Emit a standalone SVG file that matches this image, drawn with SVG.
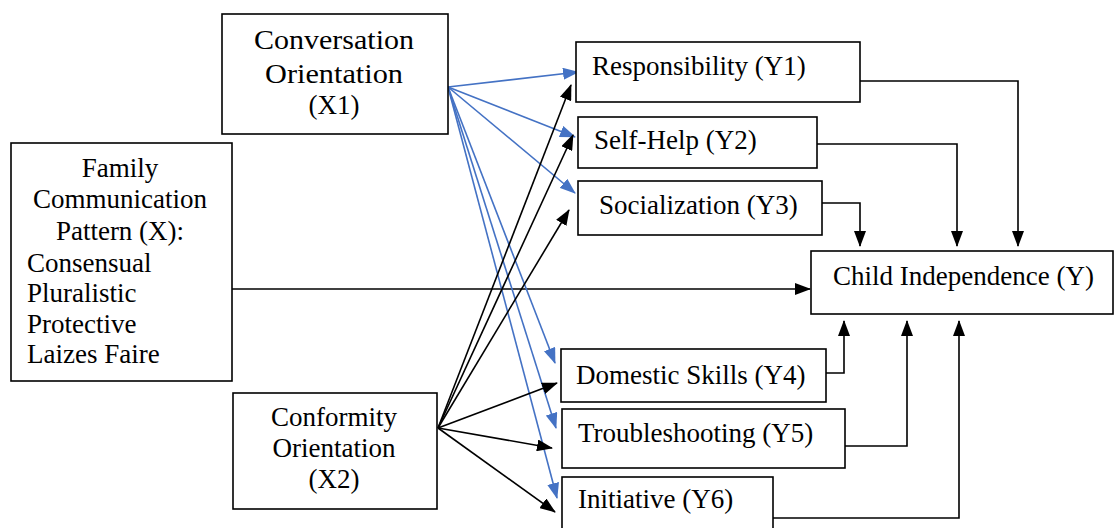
<svg xmlns="http://www.w3.org/2000/svg" width="1114" height="528" viewBox="0 0 1114 528">
<style>
.box{fill:#fff;stroke:#000;stroke-width:1.6}
.t{font-family:"Liberation Serif","Times New Roman",serif;font-size:27px;fill:#000}
.m{text-anchor:middle}
.k{fill:none;stroke:#000;stroke-width:1.6}
.b{fill:none;stroke:#4472C4;stroke-width:1.6}
</style>
<defs>
<marker id="ak" markerUnits="userSpaceOnUse" markerWidth="16" markerHeight="12" refX="15" refY="6" orient="auto" viewBox="0 0 16 12"><path d="M0,0 L16,6 L0,12 Z" fill="#000"/></marker>
<marker id="ab" markerUnits="userSpaceOnUse" markerWidth="16" markerHeight="12" refX="15" refY="6" orient="auto" viewBox="0 0 16 12"><path d="M0,0 L16,6 L0,12 Z" fill="#4472C4"/></marker>
</defs>
<rect width="1114" height="528" fill="#fff"/>
<g id="connectors">
<path class="k" d="M232,289 L810,289" marker-end="url(#ak)"/>
<path class="k" d="M860,81 L1018,81 L1018,246" marker-end="url(#ak)"/>
<path class="k" d="M817,144 L957,144 L957,246" marker-end="url(#ak)"/>
<path class="k" d="M822,203 L860,203 L860,246" marker-end="url(#ak)"/>
<path class="k" d="M826,373 L844,373 L844,321" marker-end="url(#ak)"/>
<path class="k" d="M845,446 L907,446 L907,321" marker-end="url(#ak)"/>
<path class="k" d="M773,518 L959,518 L959,321" marker-end="url(#ak)"/>
<path class="b" d="M448,87 L578,72" marker-end="url(#ab)"/>
<path class="b" d="M448,87 L575,137" marker-end="url(#ab)"/>
<path class="b" d="M448,87 L575,193" marker-end="url(#ab)"/>
<path class="b" d="M448,87 L555,363" marker-end="url(#ab)"/>
<path class="b" d="M448,87 L556,428" marker-end="url(#ab)"/>
<path class="b" d="M448,87 L557,498" marker-end="url(#ab)"/>
<path class="k" d="M438,428 L571,85" marker-end="url(#ak)"/>
<path class="k" d="M438,428 L573,135" marker-end="url(#ak)"/>
<path class="k" d="M438,428 L569,210" marker-end="url(#ak)"/>
<path class="k" d="M438,428 L557,383" marker-end="url(#ak)"/>
<path class="k" d="M438,428 L552,448" marker-end="url(#ak)"/>
<path class="k" d="M438,428 L555,512" marker-end="url(#ak)"/>
</g>
<g id="x1">
<rect class="box" x="222" y="14" width="226" height="120"/>
<text class="t m" x="334" y="49" textLength="160" lengthAdjust="spacingAndGlyphs">Conversation</text>
<text class="t m" x="334" y="83" textLength="138" lengthAdjust="spacingAndGlyphs">Orientation</text>
<text class="t m" x="334" y="114">(X1)</text>
</g>
<g id="x">
<rect class="box" x="11" y="143" width="221" height="238"/>
<text class="t m" x="120" y="177">Family</text>
<text class="t m" x="120" y="208">Communication</text>
<text class="t m" x="120" y="240">Pattern (X):</text>
<text class="t" x="27" y="272">Consensual</text>
<text class="t" x="27" y="302">Pluralistic</text>
<text class="t" x="27" y="333">Protective</text>
<text class="t" x="27" y="363">Laizes Faire</text>
</g>
<g id="x2">
<rect class="box" x="233" y="393" width="204" height="116"/>
<text class="t m" x="334" y="426">Conformity</text>
<text class="t m" x="334" y="457">Orientation</text>
<text class="t m" x="334" y="488">(X2)</text>
</g>
<g id="y1">
<rect class="box" x="576" y="42" width="284" height="60"/>
<text class="t" x="592" y="75">Responsibility (Y1)</text>
</g>
<g id="y2">
<rect class="box" x="578" y="117" width="239" height="51"/>
<text class="t" x="594" y="149">Self-Help (Y2)</text>
</g>
<g id="y3">
<rect class="box" x="578" y="181" width="244" height="54"/>
<text class="t" x="599" y="214">Socialization (Y3)</text>
</g>
<g id="y">
<rect class="box" x="811" y="251" width="302" height="63"/>
<text class="t" x="833" y="285">Child Independence (Y)</text>
</g>
<g id="y4">
<rect class="box" x="561" y="349" width="265" height="53"/>
<text class="t" x="576" y="384">Domestic Skills (Y4)</text>
</g>
<g id="y5">
<rect class="box" x="562" y="409" width="283" height="59"/>
<text class="t" x="578" y="442">Troubleshooting (Y5)</text>
</g>
<g id="y6">
<rect class="box" x="562" y="477" width="211" height="60"/>
<text class="t" x="578" y="508">Initiative (Y6)</text>
</g>
</svg>
